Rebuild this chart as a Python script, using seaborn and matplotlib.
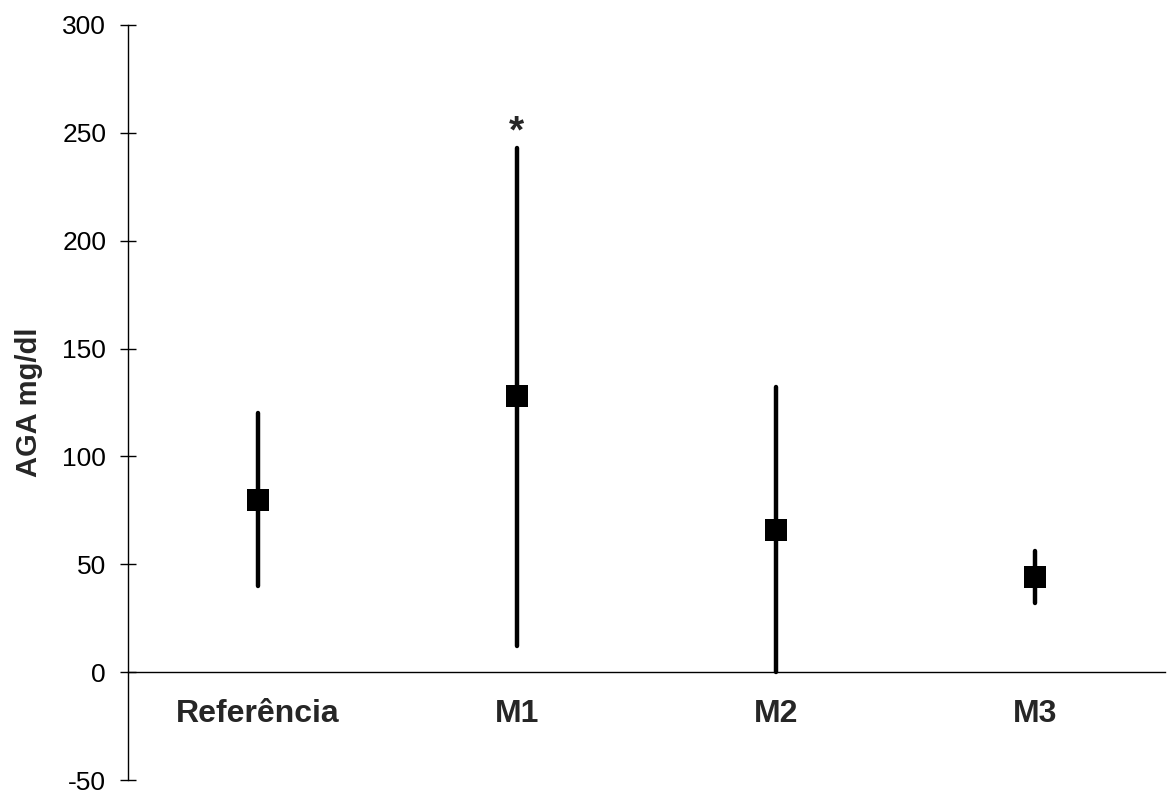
import matplotlib
matplotlib.use("Agg")
import matplotlib.pyplot as plt
import seaborn as sns
import pandas as pd

# values
grupos = ["Referência", "M1", "M2", "M3"]
media = [80, 128, 66, 44]
minimo = [40, 12, 0, 32]
maximo = [120, 243, 132, 56]
asterisco_grupo = "M1"
asterisco_y = 250

df = pd.DataFrame({"grupo": grupos, "media": media, "min": minimo, "max": maximo})

sns.set_style("white")
plt.rcParams["font.family"] = ["Liberation Sans", "DejaVu Sans"]
plt.rcParams["axes.unicode_minus"] = False

fig = plt.figure(figsize=(11.69, 7.9), dpi=100)
ax = fig.add_axes([128 / 1169, 10 / 790, (1165 - 128) / 1169, 755 / 790])

# range lines
pos = range(len(grupos))
ax.vlines(list(pos), df["min"], df["max"], color="black", linewidth=3.2,
          capstyle="round", zorder=2)

# mean markers
sns.scatterplot(data=df, x="grupo", y="media", marker="s", s=250, color="black",
                edgecolor="black", linewidth=0, ax=ax, zorder=3, legend=False)

ax.text(grupos.index(asterisco_grupo), asterisco_y, "*", ha="center", va="center",
        fontsize=28, fontweight="bold")

ax.set_xlim(-0.5, 3.5)
ax.set_ylim(-50, 300)
ax.set_yticks(range(-50, 301, 50))

ax.spines["top"].set_visible(False)
ax.spines["right"].set_visible(False)
ax.spines["bottom"].set_position(("data", 0))
for s in ["left", "bottom"]:
    ax.spines[s].set_color("black")
    ax.spines[s].set_linewidth(1.0)

ax.tick_params(axis="y", direction="inout", length=11.5, width=1, pad=10,
               labelsize=19, left=True, colors="black")
ax.tick_params(axis="x", length=0, pad=19, labelsize=23)
for lbl in ax.get_xticklabels():
    lbl.set_fontweight("bold")

ax.set_xlabel("")
ax.set_ylabel("AGA mg/dl", fontsize=21, fontweight="bold", labelpad=14)

fig.savefig("out.png", dpi=100)
